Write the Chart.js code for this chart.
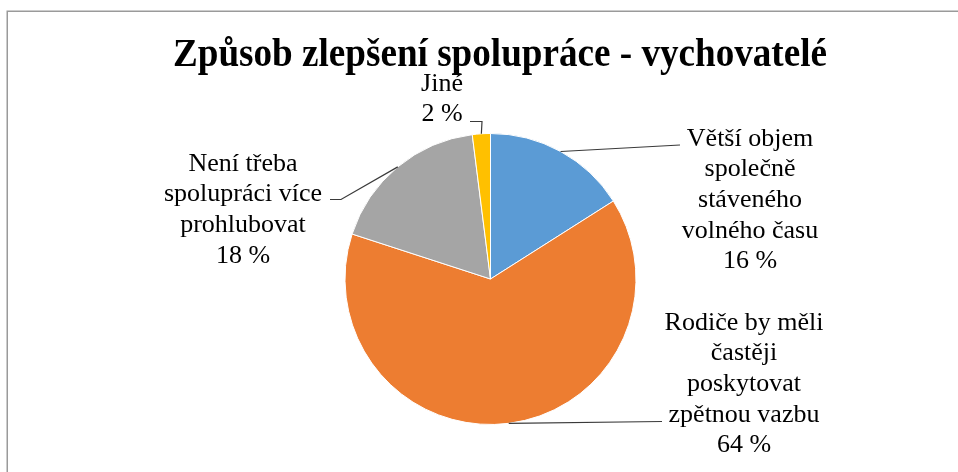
<!DOCTYPE html>
<html><head><meta charset="utf-8">
<script src="https://cdn.jsdelivr.net/npm/chart.js@4/dist/chart.umd.min.js"></script>
<style>html,body{margin:0;padding:0;background:#fff;overflow:hidden}#wrap{width:958px;height:472px;position:relative;}</style>
</head><body><div id="wrap"><canvas id="c" width="958" height="472"></canvas></div>
<script>
const chartTitle = 'Způsob zlepšení spolupráce - vychovatelé';
const categories = ['Větší objem společně stáveného volného času', 'Rodiče by měli častěji poskytovat zpětnou vazbu', 'Není třeba spolupráci více prohlubovat', 'Jiné'];
const labelLines = [['Větší objem','společně','stáveného','volného času'], ['Rodiče by měli','častěji','poskytovat','zpětnou vazbu'], ['Není třeba','spolupráci více','prohlubovat'], ['Jiné']];
const values = [16, 64, 18, 2];
const colors = ['#5B9BD5','#ED7D31','#A5A5A5','#FFC000'];

// label layout (positions only)
const labelPos = [
  {cx: 750, y0: 139, path: [[680,145]]},
  {cx: 744, y0: 323, path: [[662,421.5]]},
  {cx: 243, y0: 164, path: [[341,199.5],[330,199.5]]},
  {cx: 442, y0: 84,  path: [[482,121.5],[470,121.5]]}
];
const lineStep = 30.6;

const framePlugin = {
  id: 'frame',
  beforeDraw(chart) {
    const ctx = chart.ctx;
    ctx.save();
    ctx.fillStyle = '#fff';
    ctx.fillRect(0,0,chart.width,chart.height);
    ctx.strokeStyle = '#9a9a9a';
    ctx.lineWidth = 1.5;
    ctx.beginPath();
    ctx.moveTo(7.25, 480);
    ctx.lineTo(7.25, 11.25);
    ctx.lineTo(970, 11.25);
    ctx.stroke();
    // title
    ctx.fillStyle = '#000';
    ctx.font = 'bold 39px "Liberation Serif", "Times New Roman", serif';
    const w = ctx.measureText(chartTitle).width;
    ctx.translate(500, 66);
    ctx.scale(654 / w, 1);
    ctx.textAlign = 'center';
    ctx.textBaseline = 'alphabetic';
    ctx.fillText(chartTitle, 0, 0);
    ctx.restore();
  }
};

const labelPlugin = {
  id: 'pieLabels',
  afterDraw(chart) {
    const ctx = chart.ctx;
    const meta = chart.getDatasetMeta(0);
    ctx.save();
    meta.data.forEach((arc, i) => {
      const p = labelPos[i];
      const mid = (arc.startAngle + arc.endAngle) / 2;
      const sx = arc.x + Math.cos(mid) * arc.outerRadius;
      const sy = arc.y + Math.sin(mid) * arc.outerRadius;
      ctx.strokeStyle = '#3a3a3a';
      ctx.lineWidth = 1.2;
      ctx.beginPath();
      ctx.moveTo(sx, sy);
      p.path.forEach(pt => ctx.lineTo(pt[0], pt[1]));
      ctx.stroke();
      const lines = labelLines[i].concat([values[i] + ' %']);
      ctx.fillStyle = '#000';
      ctx.font = '26px "Liberation Serif", "Times New Roman", serif';
      ctx.textAlign = 'center';
      ctx.textBaseline = 'middle';
      lines.forEach((t, k) => ctx.fillText(t, p.cx, p.y0 + k * lineStep));
    });
    ctx.restore();
  }
};

new Chart(document.getElementById('c'), {
  type: 'pie',
  data: {
    labels: categories,
    datasets: [{
      data: values,
      backgroundColor: colors,
      borderColor: '#ffffff',
      borderWidth: 1
    }]
  },
  options: {
    responsive: false,
    animation: false,
    devicePixelRatio: 1,
    layout: { padding: { top: 133, bottom: 47, left: 344.5, right: 321.5 } },
    plugins: { legend: { display: false }, title: { display: false }, tooltip: { enabled: false } }
  },
  plugins: [framePlugin, labelPlugin]
});
</script>
</body></html>
